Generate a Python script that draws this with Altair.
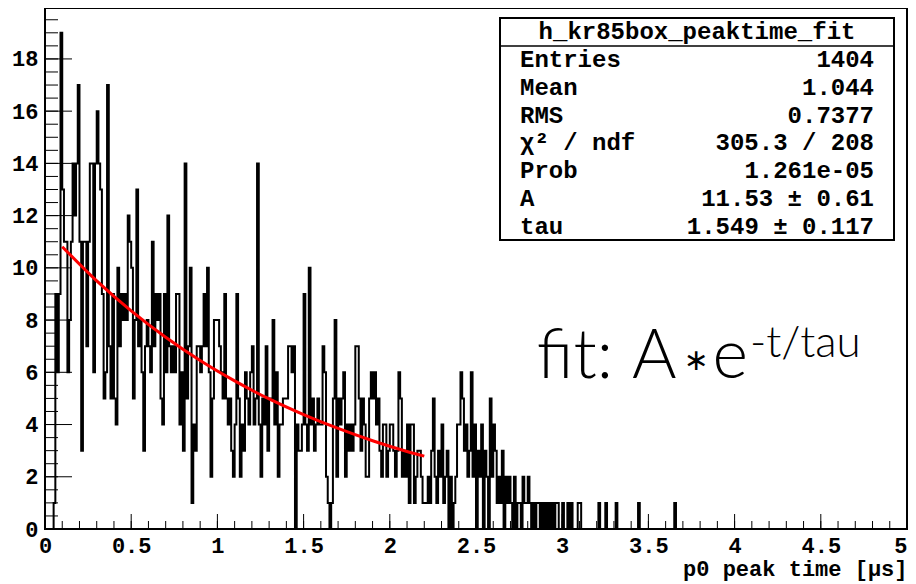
import altair as alt
import pandas as pd

# ---------------- histogram h_kr85box_peaktime_fit : 500 bins on [0, 5] us ----------------
BIN_LO, BIN_HI, NBINS = 0.0, 5.0, 500

counts_000_099 = [
    0, 0, 0, 0, 0, 1, 9, 6, 9, 19,
    13, 11, 11, 6, 8, 11, 14, 12, 14, 17,
    11, 3, 11, 11, 7, 11, 14, 14, 6, 14,
    16, 14, 13, 9, 5, 6, 17, 7, 5, 9,
    5, 4, 10, 7, 9, 8, 9, 8, 12, 11,
    10, 5, 8, 13, 7, 8, 6, 3, 7, 8,
    7, 6, 11, 7, 9, 8, 9, 5, 4, 9,
    6, 12, 7, 6, 7, 6, 9, 9, 4, 6,
    3, 14, 5, 7, 10, 1, 4, 3, 7, 7,
    6, 7, 9, 7, 10, 6, 2, 5, 8, 8,
]
counts_100_199 = [
    8, 7, 6, 5, 9, 5, 4, 5, 3, 2,
    4, 9, 5, 2, 4, 3, 6, 5, 4, 6,
    7, 4, 5, 14, 4, 2, 5, 4, 7, 3,
    5, 5, 8, 4, 6, 2, 4, 4, 5, 5,
    5, 7, 7, 6, 7, 0, 4, 3, 3, 4,
    9, 4, 3, 10, 4, 5, 3, 4, 5, 4,
    4, 7, 6, 2, 1, 0, 1, 5, 8, 2,
    5, 4, 5, 6, 2, 4, 3, 4, 3, 4,
    7, 7, 5, 3, 5, 4, 2, 2, 5, 6,
    5, 6, 4, 5, 3, 2, 4, 4, 2, 3,
]
counts_200_299 = [
    4, 4, 3, 2, 3, 6, 5, 2, 3, 2,
    4, 1, 4, 4, 1, 2, 3, 3, 2, 1,
    1, 1, 2, 1, 3, 5, 2, 1, 3, 2,
    4, 1, 2, 3, 0, 2, 0, 1, 2, 4,
    4, 6, 5, 3, 4, 2, 3, 6, 2, 4,
    0, 3, 2, 4, 0, 3, 2, 0, 5, 2,
    4, 3, 1, 2, 1, 3, 0, 2, 1, 2,
    1, 0, 2, 0, 1, 1, 0, 2, 1, 1,
    2, 1, 0, 1, 0, 1, 1, 0, 1, 0,
    1, 0, 1, 0, 1, 0, 1, 1, 0, 0,
]
counts_300_399 = [
    1, 0, 0, 1, 0, 1, 0, 0, 0, 1,
    1, 0, 0, 0, 0, 0, 0, 0, 0, 0,
    0, 1, 0, 0, 0, 1, 0, 0, 0, 0,
    0, 1, 0, 0, 0, 0, 0, 0, 0, 0,
    0, 0, 0, 0, 1, 0, 0, 0, 0, 0,
    0, 0, 0, 0, 0, 0, 0, 0, 0, 0,
    0, 0, 0, 0, 0, 1, 0, 0, 0, 0,
    0, 0, 0, 0, 0, 0, 0, 0, 0, 0,
    0, 0, 0, 0, 0, 0, 0, 0, 0, 0,
    0, 0, 0, 0, 0, 0, 0, 0, 0, 0,
]
counts_400_499 = [0] * 100

counts = counts_000_099 + counts_100_199 + counts_200_299 + counts_300_399 + counts_400_499

# fit curve A*exp(-t/tau) (fit range 0.1 - 2.2)
fit_t = [0.1, 0.3, 0.5, 0.7, 0.9, 1.1, 1.3, 1.5, 1.7, 1.9, 2.1, 2.2]
fit_v = [10.81, 9.50, 8.35, 7.34, 6.45, 5.67, 4.98, 4.38, 3.85, 3.38, 2.97, 2.79]

# axis ticks
x_major = [0, 0.5, 1, 1.5, 2, 2.5, 3, 3.5, 4, 4.5, 5]
x_minor = [round(i * 0.1, 1) for i in range(51)]
y_major = [0, 2, 4, 6, 8, 10, 12, 14, 16, 18]
y_minor = [i * 0.5 for i in range(40)]
Y_MAX = 19.95

# stats box
stat_title = "h_kr85box_peaktime_fit"
stat_names = ["Entries", "Mean", "RMS", "\u03c7\u00b2 / ndf", "Prob", "A", "tau"]
stat_values = ["1404", "1.044", "0.7377", "305.3 / 208", "1.261e-05", "11.53 \u00b1 0.61", "1.549 \u00b1 0.117"]

fit_label_fit = "fit:"
fit_label_a = "A"
fit_label_star = "\u2217"
fit_label_e = "e"
fit_label_sup = "-t/tau"

# ---------------- build chart ----------------
W, H = 862, 521
MONO = "Liberation Mono"
SANS = "Lato"

edges = [BIN_LO + i * (BIN_HI - BIN_LO) / NBINS for i in range(NBINS + 1)]
hist_df = pd.DataFrame({"x": edges, "y": counts + [0]})
fit_df = pd.DataFrame({"x": fit_t, "y": fit_v})

xscale = alt.Scale(domain=[BIN_LO, BIN_HI], nice=False, zero=False)
yscale = alt.Scale(domain=[0, Y_MAX], nice=False, zero=True)

x_axis = alt.Axis(
    values=x_major, format="~g", ticks=False, domain=False, grid=False,
    labelFont=MONO, labelFontWeight="bold", labelFontSize=22, labelColor="black",
    labelPadding=6, labelFlush=False, labelOverlap=False,
    labelAlign={"condition": {"test": "datum.value >= 5", "value": "right"}, "value": "center"},
    title="p0 peak time [\u00b5s]", titleFont=MONO, titleFontWeight="bold",
    titleFontSize=22, titleColor="black", titleAnchor="end", titleAlign="right",
    titlePadding=2)
y_axis = alt.Axis(
    values=y_major, ticks=False, domain=False, grid=False,
    labelFont=MONO, labelFontWeight="bold", labelFontSize=22, labelColor="black",
    labelPadding=7, labelFlush=False, labelOverlap=False, title=None)


def X(field):
    return alt.X(field, type="quantitative", scale=xscale, axis=x_axis, title="p0 peak time [\u00b5s]")


def Y(field):
    return alt.Y(field, type="quantitative", scale=yscale, axis=y_axis, title=None)


hist = alt.Chart(hist_df).mark_line(
    interpolate="step-after", color="black", strokeWidth=2, strokeCap="butt", strokeJoin="miter"
).encode(x=X("x"), y=Y("y"))

fit = alt.Chart(fit_df).mark_line(color="#ff0000", strokeWidth=3, interpolate="monotone").encode(
    x=X("x"), y=Y("y"))

xmaj = alt.Chart(pd.DataFrame({"x": x_major})).mark_rule(color="black", strokeWidth=1).encode(
    x=X("x"), y=alt.value(H), y2=alt.value(H - 15))
xmin = alt.Chart(pd.DataFrame({"x": x_minor})).mark_rule(color="black", strokeWidth=1).encode(
    x=X("x"), y=alt.value(H), y2=alt.value(H - 8))
ymaj = alt.Chart(pd.DataFrame({"y": y_major})).mark_rule(color="black", strokeWidth=1).encode(
    y=Y("y"), x=alt.value(0), x2=alt.value(27))
ymin = alt.Chart(pd.DataFrame({"y": y_minor})).mark_rule(color="black", strokeWidth=1).encode(
    y=Y("y"), x=alt.value(0), x2=alt.value(13))

one = pd.DataFrame({"k": [0]})
BX0, BX1, BY0, BY1 = 455, 849, 10, 232
box = alt.Chart(one).mark_rect(fill="white", stroke="black", strokeWidth=2).encode(
    x=alt.value(BX0), x2=alt.value(BX1), y=alt.value(BY0), y2=alt.value(BY1))
box_sep = alt.Chart(one).mark_rule(color="black", strokeWidth=1.5).encode(
    x=alt.value(BX0), x2=alt.value(BX1), y=alt.value(38))
box_title = alt.Chart(one).mark_text(
    text=stat_title, font=MONO, fontWeight="bold", fontSize=24, color="black",
    align="center", baseline="alphabetic").encode(
    x=alt.value((BX0 + BX1) / 2), y=alt.value(31))
box_names = alt.Chart(one).mark_text(
    text=stat_names, font=MONO, fontWeight="bold", fontSize=24, color="black",
    align="left", baseline="alphabetic", lineHeight=27.8).encode(
    x=alt.value(475), y=alt.value(59))
box_vals = alt.Chart(one).mark_text(
    text=stat_values, font=MONO, fontWeight="bold", fontSize=24, color="black",
    align="right", baseline="alphabetic", lineHeight=27.8).encode(
    x=alt.value(829), y=alt.value(59))

fit_fit = alt.Chart(one).mark_text(
    text=fit_label_fit, font=SANS, fontWeight=300, fontSize=68, color="black",
    align="right", baseline="alphabetic").encode(x=alt.value(568), y=alt.value(370))
fit_a = alt.Chart(one).mark_text(
    text=fit_label_a, font=SANS, fontWeight=300, fontSize=68, color="black",
    align="left", baseline="alphabetic").encode(x=alt.value(587), y=alt.value(370))
fit_star = alt.Chart(one).mark_text(
    text=fit_label_star, font="DejaVu Sans", fontWeight="normal", fontSize=30, color="black",
    align="center", baseline="middle").encode(x=alt.value(651), y=alt.value(353))
fit_e = alt.Chart(one).mark_text(
    text=fit_label_e, font=SANS, fontWeight=300, fontSize=68, color="black",
    align="right", baseline="alphabetic").encode(x=alt.value(703), y=alt.value(370))
fit_sup = alt.Chart(one).mark_text(
    text=fit_label_sup, font=SANS, fontWeight=300, fontSize=44, color="black",
    align="left", baseline="alphabetic").encode(x=alt.value(705), y=alt.value(349))

chart = alt.layer(
    hist, xmin, xmaj, ymin, ymaj, fit, box, box_sep, box_title, box_names, box_vals,
    fit_fit, fit_a, fit_star, fit_e, fit_sup
).properties(
    width=W, height=H,
    autosize=alt.AutoSizeParams(type="none"),
    padding={"left": 37, "top": 0, "right": 1, "bottom": 55},
    background="white",
).configure_view(stroke="black", strokeWidth=2)

chart.save("out.html", embed_options={"renderer": "svg", "actions": False})
